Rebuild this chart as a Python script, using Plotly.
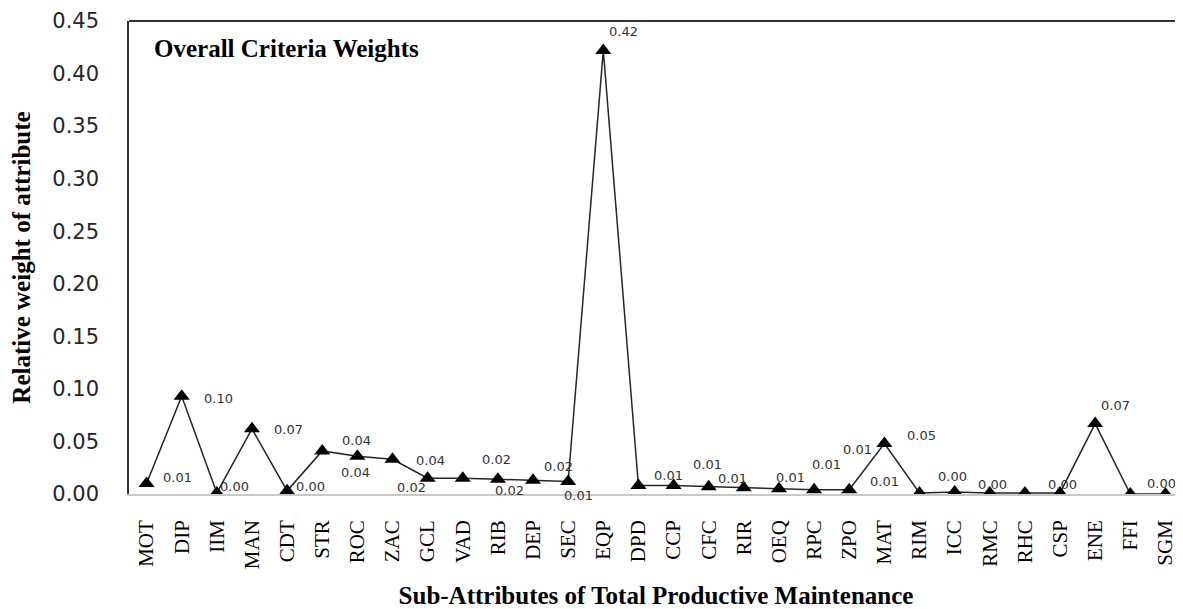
import plotly.graph_objects as go

categories = ["MOT", "DIP", "IIM", "MAN", "CDT", "STR", "ROC", "ZAC", "GCL", "VAD",
              "RIB", "DEP", "SEC", "EQP", "DPD", "CCP", "CFC", "RIR", "OEQ", "RPC",
              "ZPO", "MAT", "RIM", "ICC", "RMC", "RHC", "CSP", "ENE", "FFI", "SGM"]

weights = [0.010, 0.093, 0.001, 0.062, 0.003, 0.041, 0.036, 0.033, 0.015, 0.015,
           0.014, 0.013, 0.012, 0.422, 0.008, 0.008, 0.007, 0.006, 0.005, 0.004,
           0.004, 0.048, 0.001, 0.002, 0.001, 0.001, 0.001, 0.067, 0.000, 0.000]

# data labels as they appear in the chart: (category, text)
label_cats = ["MOT", "DIP", "IIM", "MAN", "CDT", "STR", "ROC", "ZAC", "GCL", "VAD",
              "RIB", "DEP", "SEC", "EQP", "DPD", "CCP", "CFC", "OEQ", "RPC", "ZPO",
              "MAT", "MAT", "ICC", "RMC", "CSP", "ENE", "SGM"]
label_texts = ["0.01", "0.10", "0.00", "0.07", "0.00", "0.04", "0.04", "0.04", "0.02", "0.02",
               "0.02", "0.02", "0.01", "0.42", "0.01", "0.01", "0.01", "0.01", "0.01", "0.01",
               "0.01", "0.05", "0.00", "0.00", "0.00", "0.07", "0.00"]

# label offsets in pixels (layout only)
label_dx = [31, 37, 18, 37, 23, 34, -2, 38, -16, 34, 12, 25, 10, 20, 30, 34, 24, 12, 12, 8,
            0, 37, -2, 3, 2, 20, -4]
label_dy = [6, -2, 6, -1, 4, 10, -16, -1, -9, 19, -11, 14, -14, 19, 10, 21, 8, 11, 25, 40,
            -38, 8, 15, 8, 8, 18, 11]

y_ticks = [0.00, 0.05, 0.10, 0.15, 0.20, 0.25, 0.30, 0.35, 0.40, 0.45]

fig = go.Figure()
fig.add_trace(go.Scatter(
    x=categories, y=weights, mode="lines+markers",
    line=dict(color="#262626", width=1.5),
    marker=dict(symbol="triangle-up", size=14, color="black"),
    showlegend=False, hoverinfo="x+y"))

wmap = dict(zip(categories, weights))
for c, t, dx, dy in zip(label_cats, label_texts, label_dx, label_dy):
    fig.add_annotation(x=c, y=wmap[c], text=t, showarrow=False,
                       xshift=dx, yshift=dy,
                       font=dict(family="DejaVu Sans", size=13, color="#333333"))

fig.add_annotation(xref="paper", yref="paper", x=0.022, y=0.942, xanchor="left", yanchor="middle",
                   text="<b>Overall Criteria Weights</b>", showarrow=False,
                   font=dict(family="Liberation Serif", size=25, color="black"))

# top border of plot frame
fig.add_shape(type="line", xref="paper", yref="paper", x0=0, x1=1, y0=1, y1=1,
              line=dict(color="#333333", width=2))

fig.update_layout(
    width=1175, height=601,
    margin=dict(l=121, r=0, t=13, b=115),
    paper_bgcolor="white", plot_bgcolor="white",
    xaxis=dict(
        type="category", tickangle=-90, showgrid=False, zeroline=False,
        showline=True, linecolor="#c8c8c8", linewidth=1.5,
        ticks="", ticklabelstandoff=16,
        tickfont=dict(family="Liberation Serif", size=21, color="black"),
        title=dict(text="<b>Sub-Attributes of Total Productive Maintenance</b>",
                   font=dict(family="Liberation Serif", size=25, color="black"),
                   standoff=20),
        range=[-0.5, len(categories) - 0.5], automargin=False),
    yaxis=dict(
        range=[0, 0.45], tickvals=y_ticks, tickformat=".2f",
        showgrid=False, zeroline=False,
        showline=True, linecolor="#333333", linewidth=1.5,
        ticks="", ticklabelstandoff=24,
        tickfont=dict(family="DejaVu Sans", size=21, color="#262626"),
        title=dict(text="<b>Relative weight of attribute</b>",
                   font=dict(family="Liberation Serif", size=25, color="black"),
                   standoff=16),
        automargin=False),
)

fig.write_html("out.html")
